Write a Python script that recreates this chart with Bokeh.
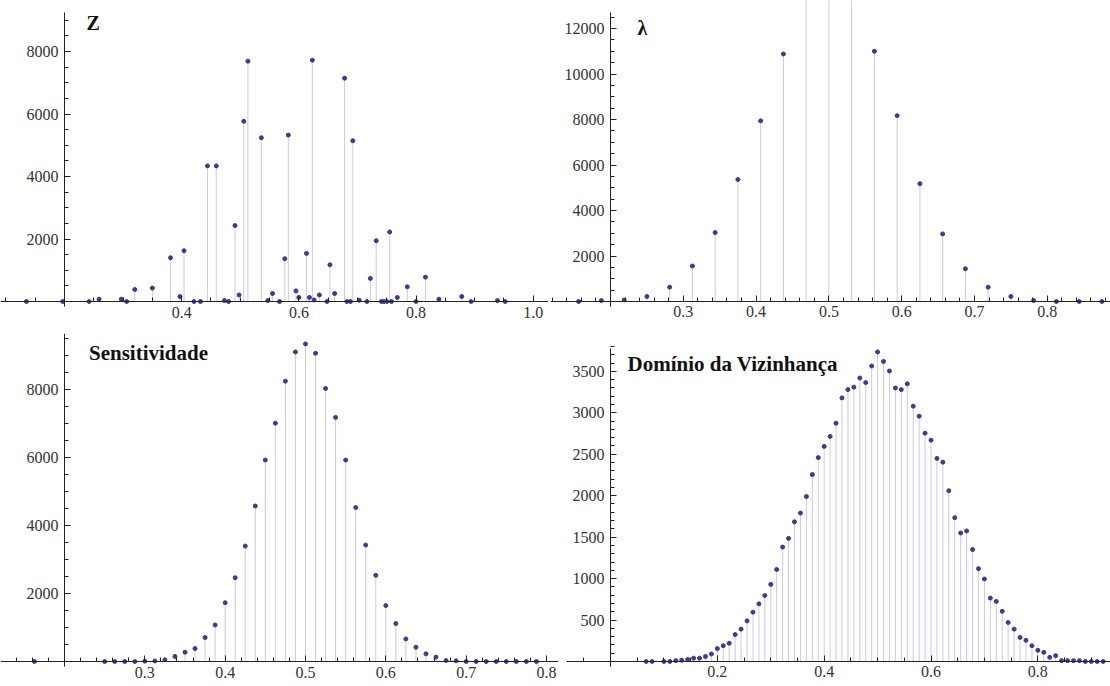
from bokeh.plotting import figure
from bokeh.models import Range1d, FixedTicker, Label, ColumnDataSource
from bokeh.layouts import column, row
from bokeh.embed import file_html
from bokeh.resources import INLINE
import numpy as np

# ---------------- data ----------------
z_x = [0.135, 0.197, 0.242, 0.259, 0.297, 0.306, 0.320, 0.350, 0.381, 0.397,
       0.404, 0.421, 0.432, 0.444, 0.459, 0.473, 0.480, 0.491, 0.498, 0.506,
       0.513, 0.536, 0.547, 0.555, 0.567, 0.576, 0.582, 0.595, 0.600, 0.613,
       0.618, 0.623, 0.626, 0.635, 0.648, 0.653, 0.661, 0.678, 0.682, 0.688,
       0.692, 0.703, 0.716, 0.722, 0.732, 0.741, 0.745, 0.750, 0.755, 0.758,
       0.768, 0.785, 0.800, 0.816, 0.839, 0.878, 0.894, 0.939, 0.952]
z_y = [0, 0, 0, 75, 75, 0, 385, 430, 1400, 160,
       1625, 0, 0, 4340, 4340, 30, 0, 2430, 210, 5765,
       7690, 5240, 30, 255, 0, 1370, 5325, 340, 130, 1540,
       130, 7720, 50, 210, 0, 1175, 255, 7145, 0, 0,
       5145, 40, 0, 740, 1945, 0, 0, 0, 2225, 0,
       130, 470, 0, 780, 75, 160, 0, 30, 0]

lam_x = [0.15625, 0.1875, 0.21875, 0.25, 0.28125, 0.3125, 0.34375, 0.375,
         0.40625, 0.4375, 0.46875, 0.5, 0.53125, 0.5625, 0.59375, 0.625,
         0.65625, 0.6875, 0.71875, 0.75, 0.78125, 0.8125, 0.84375, 0.875]
lam_y = [0, 40, 70, 220, 630, 1560, 3030, 5360,
         7940, 10880, 13600, 14300, 13600, 11000, 8170, 5180,
         2970, 1440, 630, 220, 40, 0, 0, 0]

sens_x = [0.1625, 0.25, 0.2625, 0.275, 0.2875, 0.3, 0.3125, 0.325, 0.3375, 0.35,
          0.3625, 0.375, 0.3875, 0.4, 0.4125, 0.425, 0.4375, 0.45, 0.4625, 0.475,
          0.4875, 0.5, 0.5125, 0.525, 0.5375, 0.55, 0.5625, 0.575, 0.5875, 0.6,
          0.6125, 0.625, 0.6375, 0.65, 0.6625, 0.675, 0.6875, 0.7, 0.7125, 0.725,
          0.7375, 0.75, 0.7625, 0.775, 0.7875]
sens_y = [0, 0, 0, 0, 0, 10, 15, 50, 150, 275,
          380, 705, 1075, 1730, 2465, 3395, 4575, 5925, 7010, 8245,
          9105, 9340, 9065, 8030, 7180, 5925, 4530, 3425, 2535, 1645,
          1115, 665, 420, 225, 130, 30, 20, 0, 0, 0,
          0, 0, 0, 0, 0]

dom_x = [0.0667, 0.0778, 0.1, 0.1111, 0.1222, 0.1333, 0.1444, 0.1556, 0.1667, 0.1778,
         0.1889, 0.2, 0.2111, 0.2222, 0.2333, 0.2444, 0.2556, 0.2667, 0.2778, 0.2889,
         0.3, 0.3111, 0.3222, 0.3333, 0.3444, 0.3556, 0.3667, 0.3778, 0.3889, 0.4,
         0.4111, 0.4222, 0.4333, 0.4444, 0.4556, 0.4667, 0.4778, 0.4889, 0.5, 0.5111,
         0.5222, 0.5333, 0.5444, 0.5556, 0.5667, 0.5778, 0.5889, 0.6, 0.6111, 0.6222,
         0.6333, 0.6444, 0.6556, 0.6667, 0.6778, 0.6889, 0.7, 0.7111, 0.7222, 0.7333,
         0.7444, 0.7556, 0.7667, 0.7778, 0.7889, 0.8, 0.8111, 0.8222, 0.8333, 0.8444,
         0.8556, 0.8667, 0.8778, 0.8889, 0.9, 0.9111, 0.9222]
dom_y = [0, 0, 0, 0, 10, 15, 25, 40, 40, 60,
         90, 155, 190, 220, 325, 390, 490, 595, 695, 795,
         930, 1110, 1380, 1485, 1685, 1790, 1990, 2255, 2460, 2595,
         2715, 2875, 3180, 3280, 3310, 3420, 3365, 3565, 3735, 3620,
         3505, 3300, 3280, 3350, 3080, 2960, 2755, 2670, 2450, 2405,
         2060, 1735, 1550, 1575, 1350, 1120, 995, 765, 725, 605,
         470, 390, 290, 255, 190, 135, 110, 50, 70, 10,
         10, 10, 10, 0, 0, 0, 0]

titles = ["Z", "λ", "Sensitividade", "Domínio da Vizinhança"]

# ---------------- styling ----------------
DOT = "#3c3c8c"
STEM = "#caccdf"
AXIS = "#222222"
SERIF = "Liberation Serif"


def panel(xs, ys, w, h, xr, yr, y_origin, xt, xminor, yt, yminor, ybounds,
          title, tx, ty, tsize="20px", xover=None):
    p = figure(width=w, height=h, x_range=Range1d(*xr), y_range=Range1d(*yr),
               output_backend="svg", toolbar_location=None, tools="",
               min_border=0, outline_line_color=None,
               background_fill_color="white", border_fill_color="white")
    p.xgrid.visible = False
    p.ygrid.visible = False
    src = ColumnDataSource(dict(x=xs, y=ys, y0=[0] * len(xs)))
    p.segment(x0="x", y0="y0", x1="x", y1="y", source=src,
              line_color=STEM, line_width=1)
    p.scatter(x="x", y="y", source=src, size=4, color=DOT)

    xa = p.xaxis[0]
    ya = p.yaxis[0]
    xa.fixed_location = 0
    ya.fixed_location = y_origin
    xa.ticker = FixedTicker(ticks=xt, minor_ticks=xminor)
    ya.ticker = FixedTicker(ticks=yt, minor_ticks=yminor)
    ya.bounds = ybounds
    for a in (xa, ya):
        a.axis_line_color = AXIS
        a.axis_line_width = 1
        a.major_tick_line_color = AXIS
        a.minor_tick_line_color = AXIS
        a.major_tick_in = 6
        a.major_tick_out = 0
        a.minor_tick_in = 4
        a.minor_tick_out = 0
        a.major_label_text_font = SERIF
        a.major_label_text_font_size = "16px"
        a.major_label_text_color = "#333333"
    xa.major_label_standoff = 5
    ya.major_label_standoff = 6
    if xover:
        xa.major_label_overrides = xover
    p.add_layout(Label(x=tx, y=ty, text=title, text_font=SERIF,
                       text_font_style="bold", text_font_size=tsize,
                       text_baseline="top", text_align="left",
                       text_color="#111111"))
    return p


p1 = panel(z_x, z_y, 548, 325, (0.0908, 1.026), (-768, 9632), 0.2,
           [0.4, 0.6, 0.8, 1.0], list(np.round(np.arange(0.1, 1.03, 0.05), 3)),
           [2000, 4000, 6000, 8000], list(range(0, 9500, 500)), (-150, 9248),
           titles[0], 0.2375, 9280,
           xover={0.4: "0.4", 0.6: "0.6", 0.8: "0.8", 1.0: "1.0"})

# wider frame on the left so the five-digit labels are not clipped
p2 = panel(lam_x, lam_y, 560, 325, (0.1176, 0.8868), (-1055, 13231), 0.2,
           [0.3, 0.4, 0.5, 0.6, 0.7, 0.8], list(np.round(np.arange(0.12, 0.89, 0.02), 3)),
           [2000, 4000, 6000, 8000, 10000, 12000], list(range(0, 12800, 500)),
           (-200, 12700), titles[1], 0.237, 12527)

p3 = panel(sens_x, sens_y, 558, 353, (0.1203, 0.815), (-735, 9647), 0.2,
           [0.3, 0.4, 0.5, 0.6, 0.7, 0.8], list(np.round(np.arange(0.12, 0.82, 0.02), 3)),
           [2000, 4000, 6000, 8000], list(range(0, 9700, 500)),
           (-150, 9647), titles[2], 0.2305, 9412, tsize="21px")

p4 = panel(dom_x, dom_y, 544, 353, (-0.0824, 0.936), (-302, 3957), 0.0,
           [0.2, 0.4, 0.6, 0.8], list(np.round(np.arange(-0.05, 0.94, 0.05), 3)),
           [500, 1000, 1500, 2000, 2500, 3000, 3500], list(range(0, 3900, 100)),
           (-60, 3775), titles[3], 0.0318, 3739, tsize="21px")

layout = column(row(p1, p2, spacing=2), row(p3, p4, spacing=8), spacing=8)

with open("out.html", "w") as f:
    f.write(file_html(layout, INLINE))
